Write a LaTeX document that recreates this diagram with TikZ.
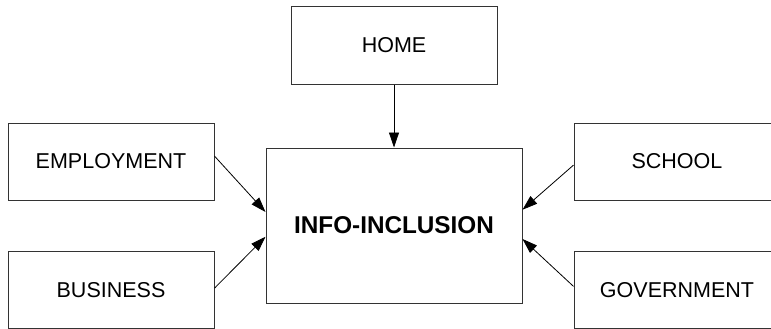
\documentclass[tikz,border=0pt]{standalone}
\usepackage{fontspec}
\setmainfont{Liberation Sans}
\usetikzlibrary{arrows.meta}

\begin{document}
\begin{tikzpicture}[x=1pt,y=-1pt,
        sector/.style={draw=black!80,line width=1pt,minimum width=206pt,minimum height=77pt,
            inner sep=0pt,font=\fontsize{21.5}{24}\selectfont},
        hub/.style={draw=black!80,line width=1pt,minimum width=256pt,minimum height=155pt,
            inner sep=0pt,font=\fontsize{24.3}{28}\selectfont\bfseries},
        feed/.style={-{Triangle[length=15pt,width=10pt]},line width=0.8pt}]
        \clip (0,0) rectangle (771,329);
        \node[hub] (info) at (394,225.5) {INFO-INCLUSION};
        \node[sector] (home) at (394,45.5) {HOME};
        \node[sector] (emp) at (111,161.5) {EMPLOYMENT};
        \node[sector] (bus) at (111,290) {BUSINESS};
        \node[sector] (sch) at (677,161.5) {SCHOOL};
        \node[sector] (gov) at (677,290) {GOVERNMENT};
        \draw[feed] (home.south) -- (info.north);
        \draw[feed] (emp.3) -- (info.174.9);
        \draw[feed] (bus.1) -- (info.185.1);
        \draw[feed] (sch.182) -- (info.7.3);
        \draw[feed] (gov.178) -- (info.354.9);
    \end{tikzpicture}
\end{document}
